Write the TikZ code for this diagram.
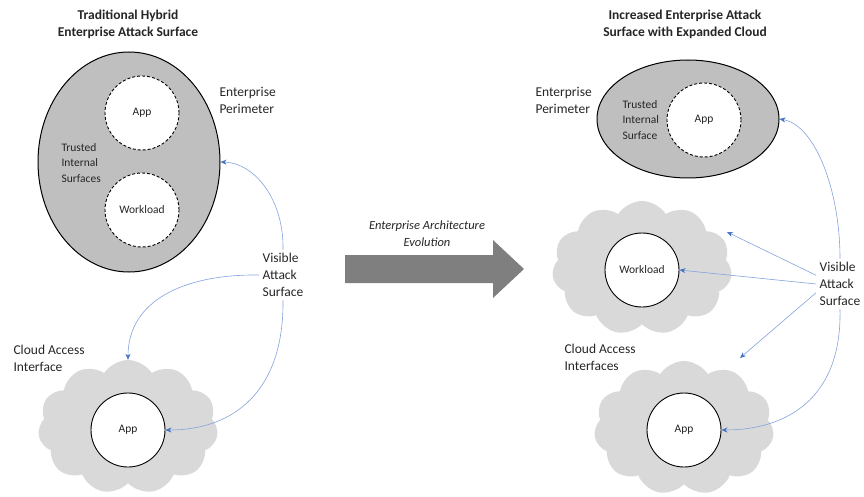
\documentclass[tikz,border=0pt]{standalone}
\usepackage{fontspec}
\setmainfont{Carlito}
\usetikzlibrary{shapes.geometric,shapes.symbols,arrows.meta}

\definecolor{perim}{RGB}{191,191,191}
\definecolor{cloudgray}{RGB}{217,217,217}
\definecolor{arrowgray}{RGB}{127,127,127}
\definecolor{linkblue}{RGB}{132,162,220}
\definecolor{tipblue}{RGB}{68,114,196}
\definecolor{txt}{RGB}{38,38,38}

\tikzset{
  perimeter/.style={ellipse, draw=black, line width=1pt, fill=perim, inner sep=0pt},
  trusted/.style={circle, draw=black, line width=0.9pt, dash pattern=on 3pt off 2pt,
    fill=white, minimum size=74pt, inner sep=0pt, text=txt, font=\fontsize{11.5}{13}\selectfont},
  exposed/.style={trusted, solid},
  puff/.style={cloud, cloud puffs=11, cloud puff arc=115, aspect=1.35, fill=cloudgray,
    draw=none, minimum width=180pt, minimum height=134pt},
  note/.style={align=left, text=txt, font=\fontsize{13.5}{17}\selectfont},
  inner note/.style={align=left, text=txt, font=\fontsize{11.5}{15.5}\selectfont},
  heading/.style={align=center, text=txt, font=\bfseries\fontsize{13.5}{17}\selectfont},
  link/.style={draw=linkblue, line width=0.6pt, -{Stealth[length=6pt,width=5pt,color=tipblue]}}
}

\begin{document}
\begin{tikzpicture}[x=1pt,y=-1pt]
\useasboundingbox (0,0) rectangle (864,497);

% traditional hybrid enterprise
\node [heading] (titleL) at (128,24) {Traditional Hybrid\\Enterprise Attack Surface};
\node [perimeter, minimum width=182pt, minimum height=220pt] (perL) at (129,162) {};
\node [trusted] (appL) at (142,113) {App};
\node [trusted] (workL) at (142,210) {Workload};
\node [inner note, anchor=west] (trustL) at (58,163) {Trusted\\Internal\\Surfaces};
\node [note, anchor=west] (edgeL) at (216,100) {Enterprise\\Perimeter};

\node [puff] (cloudL) at (128,427) {};
\node [exposed] (appCL) at (128,430) {App};
\node [note, anchor=west] (caiL) at (10,358) {Cloud Access\\Interface};

\node [note] (visL) at (283,275) {Visible\\Attack\\Surface};
\draw [link] (visL.north) .. controls (284,200) and (255,163) .. (perL.east);
\draw [link] (visL.west) .. controls (185,274) and (128,300) .. (cloudL.north);
\draw [link] (visL.south) .. controls (284,390) and (235,430) .. (appCL.east);

% evolution arrow
\fill [arrowgray] (345,255) -- (493,255) -- (493,240) -- (524,269) -- (493,298) -- (493,283) -- (345,283) -- cycle;
\node [align=center, text=txt, font=\itshape\fontsize{12.5}{17}\selectfont] (evo) at (427,234)
  {Enterprise Architecture\\Evolution};

% expanded cloud enterprise
\node [heading] (titleR) at (685,24) {Increased Enterprise Attack\\Surface with Expanded Cloud};
\node [perimeter, minimum width=182pt, minimum height=118pt] (perR) at (688,119) {};
\node [trusted] (appR) at (704,120) {App};
\node [inner note, anchor=west] (trustR) at (619,120) {Trusted\\Internal\\Surface};
\node [note, anchor=west] (edgeR) at (532,100) {Enterprise\\Perimeter};

\node [puff] (cloudW) at (642,268) {};
\node [exposed] (workR) at (642,270) {Workload};
\node [note, anchor=west] (caiR) at (561,357) {Cloud Access\\Interfaces};
\node [puff] (cloudA) at (684,428) {};
\node [exposed] (appCR) at (684,430) {App};

\node [note] (visR) at (840,284) {Visible\\Attack\\Surface};
\draw [link] (visR.north) .. controls (840,190) and (815,125) .. (perR.east);
\draw [link] (visR.160) -- (727,232);
\draw [link] (visR.west) -- (workR.east);
\draw [link] (visR.200) -- (740,358);
\draw [link] (visR.south) .. controls (842,400) and (785,430) .. (appCR.east);
\end{tikzpicture}
\end{document}
